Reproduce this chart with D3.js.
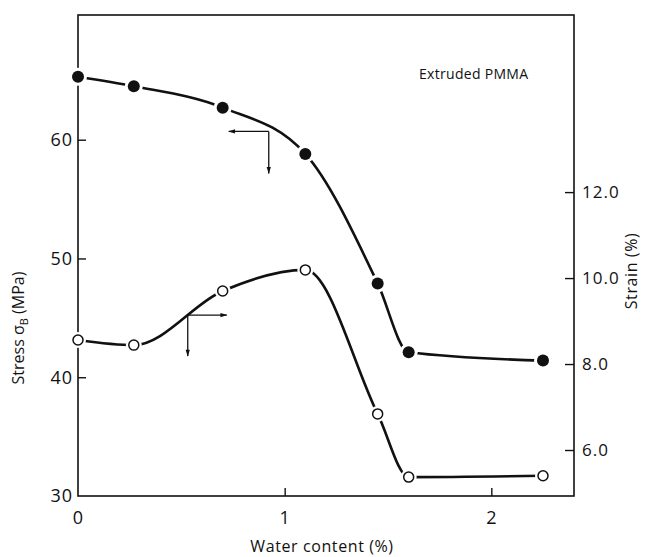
<!DOCTYPE html>
<html>
<head>
<meta charset="utf-8">
<script src="https://cdnjs.cloudflare.com/ajax/libs/d3/7.8.5/d3.min.js"></script>
<style>
  body { margin: 0; background: #fff; }
  svg text { font-family: "Open Sans", "DejaVu Sans", sans-serif; fill: #111; }
</style>
</head>
<body>
<div id="chart"></div>
<script>
// water content (%) for each sample
var waterContent = [0, 0.27, 0.70, 1.10, 1.45, 1.60, 2.25];
// stress sigma_B (MPa), filled circles, left axis
var stress = [65.3, 64.5, 62.7, 58.8, 47.9, 42.1, 41.4];
// strain (%), open circles, right axis
var strain = [8.56, 8.44, 9.70, 10.19, 6.84, 5.37, 5.40];

var waterTicks = [0, 1, 2];
var stressTicks = [30, 40, 50, 60];
var strainTicks = [6, 8, 10, 12];
var strainTickLabels = ["6.0", "8.0", "10.0", "12.0"];

var width = 645,
  height = 557,
  margin = {left: 78, right: 71, top: 15, bottom: 61},
  innerW = width - margin.left - margin.right,
  innerH = height - margin.top - margin.bottom;

var svg = d3.select("#chart")
  .append("svg")
  .attr("width", width)
  .attr("height", height);

var chart = svg.append("g")
  .attr("transform", "translate(" + margin.left + "," + margin.top + ")");

var xScale = d3.scaleLinear()
    .domain([0, 2.4])
    .range([0, innerW]),
  stressScale = d3.scaleLinear()
    .domain([30, 70.5])
    .range([innerH, 0]),
  strainScale = d3.scaleLinear()
    .domain([4.93, 16.12])
    .range([innerH, 0]);

var stressData = waterContent.map(function (w, i) { return {x: w, y: stress[i]}; });
var strainData = waterContent.map(function (w, i) { return {x: w, y: strain[i]}; });

// frame
chart.append("rect")
  .attr("x", 0).attr("y", 0)
  .attr("width", innerW).attr("height", innerH)
  .attr("fill", "none")
  .attr("stroke", "#111")
  .attr("stroke-width", 1.6);

// axes with inward ticks
var xAxis = chart.append("g")
  .attr("transform", "translate(0," + innerH + ")")
  .call(d3.axisBottom(xScale).tickValues(waterTicks).tickSizeInner(-8).tickSizeOuter(0).tickPadding(15)
    .tickFormat(d3.format("d")));
var yAxis = chart.append("g")
  .call(d3.axisLeft(stressScale).tickValues(stressTicks).tickSizeInner(-8).tickSizeOuter(0).tickPadding(5));
var y2Axis = chart.append("g")
  .attr("transform", "translate(" + innerW + ",0)")
  .call(d3.axisRight(strainScale).tickValues(strainTicks).tickSizeInner(-9).tickSizeOuter(0).tickPadding(8)
    .tickFormat(function (d, i) { return strainTickLabels[i]; }));

[xAxis, yAxis, y2Axis].forEach(function (a) {
  a.select(".domain").remove();
  a.selectAll("line").attr("stroke", "#111").attr("stroke-width", 1.4);
  a.selectAll("text").attr("font-size", 18).attr("fill", "#111")
    .attr("letter-spacing", 1)
    .style("font-family", "'Open Sans', 'DejaVu Sans', sans-serif");
});
y2Axis.selectAll("text").attr("font-size", 17);
xAxis.selectAll(".tick").filter(function (d) { return d === 0; }).select("line").remove();
yAxis.selectAll(".tick").filter(function (d) { return d === 30; }).select("line").remove();

// curves
var stressLine = d3.line()
  .x(function (d) { return xScale(d.x); })
  .y(function (d) { return stressScale(d.y); })
  .curve(d3.curveMonotoneX);
var strainLine = d3.line()
  .x(function (d) { return xScale(d.x); })
  .y(function (d) { return strainScale(d.y); })
  .curve(d3.curveMonotoneX);

chart.append("path").datum(stressData)
  .attr("d", stressLine)
  .attr("fill", "none").attr("stroke", "#111").attr("stroke-width", 2.6);
chart.append("path").datum(strainData)
  .attr("d", strainLine)
  .attr("fill", "none").attr("stroke", "#111").attr("stroke-width", 2.6);

// markers with a white gap round them
chart.selectAll(".halo1").data(stressData).enter()
  .append("circle")
  .attr("cx", function (d) { return xScale(d.x); })
  .attr("cy", function (d) { return stressScale(d.y); })
  .attr("r", 9).attr("fill", "#fff");
chart.selectAll(".dot1").data(stressData).enter()
  .append("circle")
  .attr("cx", function (d) { return xScale(d.x); })
  .attr("cy", function (d) { return stressScale(d.y); })
  .attr("r", 6).attr("fill", "#111");

chart.selectAll(".halo2").data(strainData).enter()
  .append("circle")
  .attr("cx", function (d) { return xScale(d.x); })
  .attr("cy", function (d) { return strainScale(d.y); })
  .attr("r", 8).attr("fill", "#fff");
chart.selectAll(".dot2").data(strainData).enter()
  .append("circle")
  .attr("cx", function (d) { return xScale(d.x); })
  .attr("cy", function (d) { return strainScale(d.y); })
  .attr("r", 5).attr("fill", "#fff")
  .attr("stroke", "#111").attr("stroke-width", 1.5);

// axis-pointer arrows
var defs = svg.append("defs");
defs.append("marker")
  .attr("id", "head")
  .attr("viewBox", "0 0 10 10")
  .attr("refX", 9).attr("refY", 5)
  .attr("markerWidth", 11).attr("markerHeight", 7)
  .attr("markerUnits", "userSpaceOnUse")
  .attr("orient", "auto")
  .append("path").attr("d", "M0,2 L10,5 L0,8 Z").attr("fill", "#111");

function pointer(px, py, dx, dy) {
  chart.append("line")
    .attr("x1", px).attr("y1", py).attr("x2", px + dx).attr("y2", py)
    .attr("stroke", "#111").attr("stroke-width", 1.3).attr("marker-end", "url(#head)");
  chart.append("line")
    .attr("x1", px).attr("y1", py).attr("x2", px).attr("y2", py + dy)
    .attr("stroke", "#111").attr("stroke-width", 1.3).attr("marker-end", "url(#head)");
}
pointer(xScale(0.923), stressScale(60.7), -40, 42);
pointer(xScale(0.531), strainScale(9.14), 39, 41);

// labels
chart.append("text")
  .attr("x", xScale(1.65)).attr("y", 64)
  .attr("font-size", 14)
  .attr("letter-spacing", 0.3)
  .text("Extruded PMMA");

svg.append("text")
  .attr("x", margin.left + innerW / 2 - 4).attr("y", 552)
  .attr("text-anchor", "middle")
  .attr("font-size", 16)
  .attr("letter-spacing", 0.6)
  .text("Water content (%)");

var yLab = svg.append("text")
  .attr("transform", "translate(24," + 328 + ") rotate(-90)")
  .attr("text-anchor", "middle")
  .attr("font-size", 16);
yLab.append("tspan").text("Stress \u03c3");
yLab.append("tspan").attr("font-size", 11).attr("dy", 4).text("B");
yLab.append("tspan").attr("dy", -4).text("  (MPa)");

svg.append("text")
  .attr("transform", "translate(637," + 271 + ") rotate(-90)")
  .attr("text-anchor", "middle")
  .attr("font-size", 16)
  .attr("letter-spacing", 0.6)
  .text("Strain (%)");
</script>
</body>
</html>
